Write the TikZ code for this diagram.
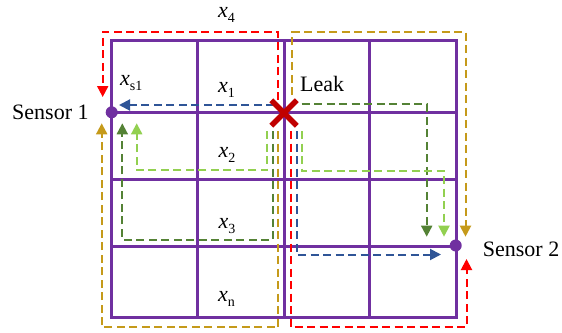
\documentclass[tikz,border=0pt]{standalone}
\usepackage{fontspec}
\setmainfont{Liberation Serif}
\usetikzlibrary{arrows.meta,shapes.misc}
\definecolor{gridpurple}{HTML}{7030A0}
\definecolor{leakred}{HTML}{C00000}
\definecolor{fred}{HTML}{FF0000}
\definecolor{fgold}{HTML}{C59A1A}
\definecolor{fblue}{HTML}{2F5597}
\definecolor{fdgreen}{HTML}{548235}
\definecolor{flgreen}{HTML}{92D050}
\newcommand\xsub[1]{\textit{x}\raisebox{-5pt}{\fontsize{14}{14}\selectfont #1}}
\begin{document}
\begin{tikzpicture}[x=1pt,y=-1pt,
  gridline/.style={draw=gridpurple, line width=3pt},
  flow/.style={line width=2pt, dash pattern=on 8pt off 4.5pt, -{Triangle[width=11pt,length=11pt]}},
  lbl/.style={anchor=base west, inner sep=0pt, font=\fontsize{22}{26}\selectfont},
  sensor/.style={circle, fill=gridpurple, minimum size=12pt, inner sep=0pt}]
\useasboundingbox (0,0) rectangle (562,332);
% grid
\draw[gridline] (111.5,40.5) rectangle (456,317.7);
\foreach \x in {197.5,284,369} \draw[gridline] (\x,40.5) -- (\x,317.7);
\foreach \y in {112.7,179.3,246.3} \draw[gridline] (111.5,\y) -- (456,\y);
% flows
\draw[flow, fred] (278.3,100) -- (278.3,31.7) -- (102.7,31.7) -- (102.7,97);
\draw[flow, fred] (291,131) -- (291,327.3) -- (466.5,327.3) -- (466.5,259);
\draw[flow, fgold] (292.3,95) -- (292.3,31.7) -- (465.5,31.7) -- (465.5,236.7);
\draw[flow, fgold] (278.3,131) -- (278.3,327.3) -- (101.7,327.3) -- (101.7,123.3);
\draw[flow, fblue] (274,105) -- (119,105);
\draw[flow, fblue] (296.7,131) -- (296.7,254.5) -- (441,254.5);
\draw[flow, fdgreen] (272.7,131) -- (272.7,240) -- (122.3,240) -- (122.3,123.3);
\draw[flow, flgreen] (267.3,131) -- (267.3,170) -- (136.7,170) -- (136.7,123.3);
\draw[flow, fdgreen] (301.7,104.3) -- (426.7,104.3) -- (426.7,236.7);
\draw[flow, flgreen] (301.7,131) -- (301.7,171) -- (444,171) -- (444,236.7);
% sensors and leak
\node[sensor] (s1) at (111.7,112.3) {};
\node[sensor] (s2) at (455.7,245.5) {};
\node[cross out, draw=leakred, line width=5.5pt, minimum size=20pt, inner sep=0pt] (leak) at (284,113) {};
% labels
\node[lbl] (ls1) at (12,119) {Sensor 1};
\node[lbl] (ls2) at (482.7,256.7) {Sensor 2};
\node[lbl] (lleak) at (300,91.7) {Leak};
\node[lbl] (x4) at (218,17) {\xsub{4}};
\node[lbl] (xs1) at (120,85) {\xsub{s1}};
\node[lbl] (x1) at (218,92) {\xsub{1}};
\node[lbl] (x2) at (218.3,157) {\xsub{2}};
\node[lbl] (x3) at (218.3,228) {\xsub{3}};
\node[lbl] (xn) at (218,301.7) {\xsub{n}};
\end{tikzpicture}
\end{document}
